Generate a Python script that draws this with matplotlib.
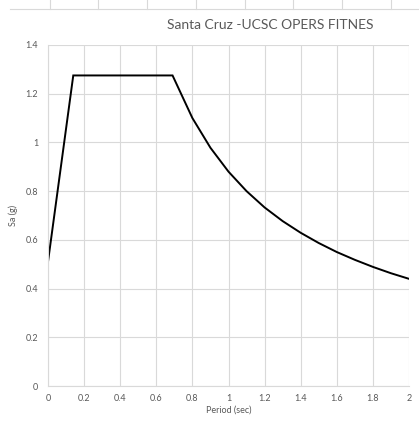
import matplotlib
matplotlib.use("Agg")
import matplotlib.pyplot as plt
from matplotlib.lines import Line2D

period = [0.0, 0.14, 0.69, 0.8, 0.9, 1.0, 1.1, 1.2, 1.3, 1.4, 1.5, 1.6, 1.7, 1.8, 1.9, 2.0]
sa = [0.51, 1.275, 1.275, 1.10, 0.978, 0.88, 0.80, 0.733, 0.677, 0.629, 0.587, 0.55, 0.518, 0.489, 0.463, 0.44]
xticks = [0, 0.2, 0.4, 0.6, 0.8, 1, 1.2, 1.4, 1.6, 1.8, 2]
xticklabels = ["0", "0.2", "0.4", "0.6", "0.8", "1", "1.2", "1.4", "1.6", "1.8", "2"]
yticks = [0, 0.2, 0.4, 0.6, 0.8, 1, 1.2, 1.4]
yticklabels = ["0", "0.2", "0.4", "0.6", "0.8", "1", "1.2", "1.4"]

plt.rcParams['font.family'] = ['Lato', 'DejaVu Sans']
W, H = 419, 421
fig = plt.figure(figsize=(W/100, H/100), dpi=100)
ax = fig.add_axes([48/W, 1-386/H, (409-48)/W, (386-45)/H])

ax.plot(period, sa, color="black", lw=1.4, solid_joinstyle="miter")
ax.set_xlim(0, 2)
ax.set_ylim(0, 1.4)
ax.set_xticks(xticks)
ax.set_xticklabels(xticklabels)
ax.set_yticks(yticks)
ax.set_yticklabels(yticklabels)
ax.grid(True, color="#d9d9d9", lw=0.8)
ax.set_axisbelow(True)
for s in ["top", "right"]:
    ax.spines[s].set_visible(False)
for s in ["left", "bottom"]:
    ax.spines[s].set_color("#d9d9d9")
    ax.spines[s].set_linewidth(0.8)
ax.tick_params(axis="y", length=0, labelsize=6.5, labelcolor="#595959", pad=7)
ax.tick_params(axis="x", length=0, labelsize=6.5, labelcolor="#595959", pad=6)
ax.set_xlabel("Period (sec)", fontsize=6.5, color="#595959", va="center")
ax.set_ylabel("Sa (g)", fontsize=6.5, color="#595959", va="center")
ax.yaxis.set_label_coords((13-48)/361, 0.5)
ax.xaxis.set_label_coords(0.5, -(410-386)/341)

fig.text(270/W, 1-25/H, "Santa Cruz -UCSC OPERS FITNES", ha="center", va="center",
         fontsize=10, color="#595959")

# cropped artifact at the top (axis of a previous chart)
fig.add_artist(Line2D([10/W, 1], [1-9/H, 1-9/H], color="#d9d9d9", lw=0.8, transform=fig.transFigure))
for px in [50, 98, 147, 196, 245, 293, 342, 391]:
    fig.add_artist(Line2D([px/W, px/W], [1-9/H, 1.0], color="#d9d9d9", lw=0.8, transform=fig.transFigure))

fig.savefig("out.png", dpi=100)
